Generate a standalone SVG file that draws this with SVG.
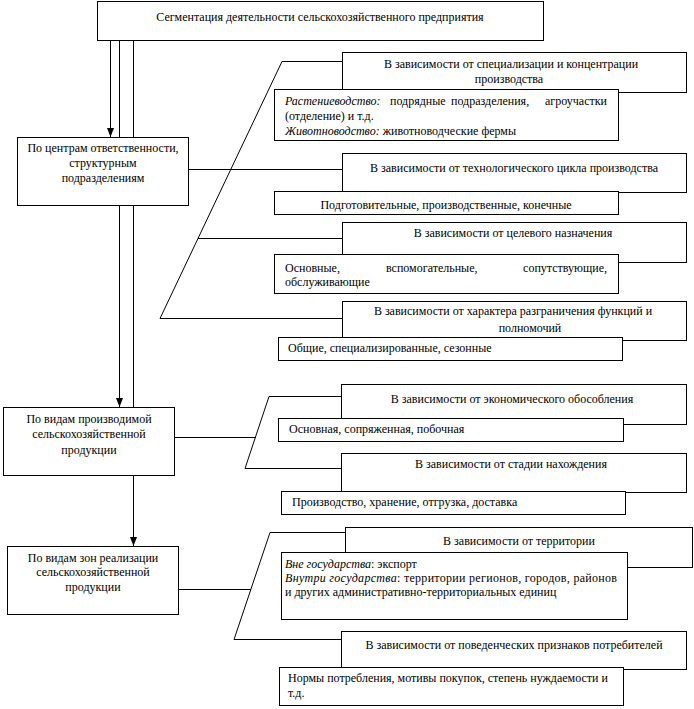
<svg xmlns="http://www.w3.org/2000/svg" width="694" height="709" viewBox="0 0 694 709" font-family="'Liberation Serif','DejaVu Serif',serif" font-size="12">
<style>
.b{fill:#fff;stroke:#000;stroke-width:1;shape-rendering:crispEdges}
.l{fill:none;stroke:#000;stroke-width:1}
.h{shape-rendering:crispEdges}
text{font-family:'Liberation Serif','DejaVu Serif',serif;font-size:12px;fill:#000}
.c{text-anchor:middle}
.i{font-style:italic}
</style>
<defs>
<marker id="ar" viewBox="0 0 9 8" refX="9" refY="4" markerWidth="9" markerHeight="8" markerUnits="userSpaceOnUse" orient="auto">
<path d="M0,0.5 L9,4 L0,7.5 Z" fill="#000"/>
</marker>
</defs>
<rect width="694" height="709" fill="#fff"/>
<g id="connectors">
<path class="l h" d="M110.5,40 V137" marker-end="url(#ar)"/>
<path class="l h" d="M119.5,40 V407" marker-end="url(#ar)"/>
<path class="l h" d="M133.5,40 V546" marker-end="url(#ar)"/>
<path class="l" d="M342,61.5 H282 L160,318.5 H342"/>
<path class="l h" d="M189,169.5 H342"/>
<path class="l h" d="M198,238.5 H342"/>
<path class="l" d="M341,396.5 H269 L245,468.5 H341"/>
<path class="l h" d="M174,437.5 H256"/>
<path class="l" d="M345,532.5 H270 L234,639.5 H341"/>
<path class="l h" d="M179,589.5 H251"/>
</g>
<g id="n0">
<rect class="b" x="97.5" y="1.5" width="446" height="39"/>
<text class="c" x="320" y="21">Сегментация деятельности сельскохозяйственного предприятия</text>
</g>
<g id="n1">
<rect class="b" x="17.5" y="137.5" width="171" height="68"/>
<text class="c" x="103" y="152">По центрам ответственности,</text>
<text class="c" x="103" y="167">структурным</text>
<text class="c" x="103" y="182">подразделениям</text>
</g>
<g id="n2">
<rect class="b" x="3.5" y="407.5" width="171" height="68"/>
<text class="c" x="89" y="423">По видам производимой</text>
<text class="c" x="89" y="438">сельскохозяйственной</text>
<text class="c" x="89" y="454">продукции</text>
</g>
<g id="n3">
<rect class="b" x="7.5" y="546.5" width="171" height="68"/>
<text class="c" x="93" y="562">По видам зон реализации</text>
<text class="c" x="93" y="576">сельскохозяйственной</text>
<text class="c" x="93" y="591">продукции</text>
</g>
<g id="a">
<rect class="b" x="342.5" y="52.5" width="344" height="40"/>
<text class="c" x="511" y="68">В зависимости от специализации и концентрации</text>
<text class="c" x="509" y="83">производства</text>
</g>
<g id="a2">
<rect class="b" x="274.5" y="89.5" width="344" height="51"/>
<text x="285" y="105" class="i">Растениеводство:</text>
<text x="390" y="105">подрядные</text>
<text x="451" y="105">подразделения,</text>
<text x="607" y="105" text-anchor="end">агроучастки</text>
<text x="285" y="120">(отделение) и т.д.</text>
<text x="285" y="135"><tspan class="i">Животноводство:</tspan> животноводческие фермы</text>
</g>
<g id="b">
<rect class="b" x="342.5" y="153.5" width="344" height="39"/>
<text class="c" x="514" y="172">В зависимости от технологического цикла производства</text>
</g>
<g id="b2">
<rect class="b" x="274.5" y="191.5" width="344" height="23"/>
<text class="c" x="446" y="209">Подготовительные, производственные, конечные</text>
</g>
<g id="c">
<rect class="b" x="342.5" y="222.5" width="344" height="40"/>
<text class="c" x="513" y="237">В зависимости от целевого назначения</text>
</g>
<g id="c2">
<rect class="b" x="274.5" y="254.5" width="344" height="39"/>
<text x="285" y="272">Основные,</text>
<text x="386" y="272">вспомогательные,</text>
<text x="607" y="272" text-anchor="end">сопутствующие,</text>
<text x="285" y="286">обслуживающие</text>
</g>
<g id="d">
<rect class="b" x="342.5" y="301.5" width="344" height="39"/>
<text class="c" x="513" y="315">В зависимости от характера разграничения функций и</text>
<text class="c" x="530" y="332">полномочий</text>
</g>
<g id="d2">
<rect class="b" x="278.5" y="337.5" width="344" height="23"/>
<text x="288" y="352">Общие, специализированные, сезонные</text>
</g>
<g id="e">
<rect class="b" x="341.5" y="384.5" width="345" height="40"/>
<text class="c" x="512" y="403">В зависимости от экономического обособления</text>
</g>
<g id="e2">
<rect class="b" x="278.5" y="418.5" width="345" height="23"/>
<text x="289" y="433">Основная, сопряженная, побочная</text>
</g>
<g id="f">
<rect class="b" x="341.5" y="453.5" width="345" height="39"/>
<text class="c" x="511" y="468">В зависимости от стадии нахождения</text>
</g>
<g id="f2">
<rect class="b" x="281.5" y="491.5" width="344" height="23"/>
<text x="292" y="506">Производство, хранение, отгрузка, доставка</text>
</g>
<g id="g">
<rect class="b" x="345.5" y="527.5" width="347" height="40"/>
<text class="c" x="519" y="545">В зависимости от территории</text>
</g>
<g id="g2">
<rect class="b" x="281.5" y="552.5" width="346" height="67"/>
<text x="285" y="568"><tspan class="i">Вне государства</tspan>: экспорт</text>
<text x="285" y="582" textLength="332" lengthAdjust="spacing"><tspan class="i">Внутри государства</tspan>: территории регионов, городов, районов</text>
<text x="285" y="596">и других административно-территориальных единиц</text>
</g>
<g id="h">
<rect class="b" x="341.5" y="631.5" width="345" height="38"/>
<text class="c" x="514" y="649">В зависимости от поведенческих признаков потребителей</text>
</g>
<g id="h2">
<rect class="b" x="279.5" y="667.5" width="344" height="38"/>
<text x="288" y="682">Нормы потребления, мотивы покупок, степень нуждаемости и</text>
<text x="288" y="697">т.д.</text>
</g>
</svg>
